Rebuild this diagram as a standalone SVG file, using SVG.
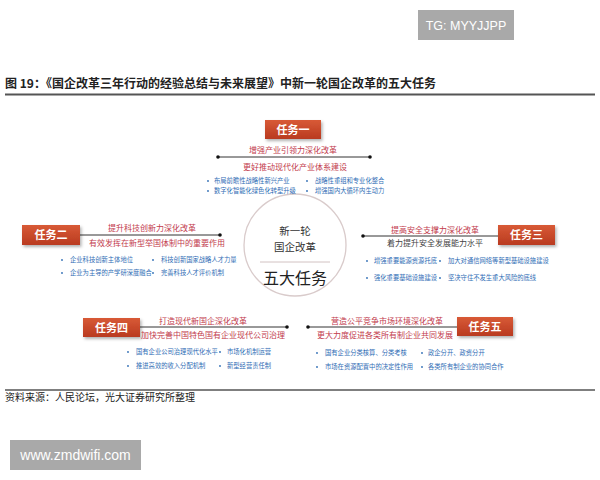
<svg xmlns="http://www.w3.org/2000/svg" width="600" height="480" viewBox="0 0 600 480">
<defs>
<linearGradient id="boxg" x1="0" y1="0" x2="0" y2="1">
<stop offset="0" stop-color="#d85a36"/>
<stop offset="1" stop-color="#b93a20"/>
</linearGradient>
<filter id="sh" x="-20%" y="-20%" width="150%" height="160%">
<feDropShadow dx="1.5" dy="2" stdDeviation="1.5" flood-color="#000" flood-opacity="0.3"/>
</filter>
</defs>
<style>
text{font-family:"Noto Sans CJK SC","Noto Sans",sans-serif}
.box{fill:url(#boxg);filter:url(#sh)}
.bt{fill:#fff;font-size:11px;font-weight:bold;text-anchor:middle}
.red{fill:#c23a4c;font-size:8px;text-anchor:middle}
.gry{fill:#444;font-size:8px;text-anchor:middle}
.bl{fill:#2f6db5;font-size:6.3px}
.dot{fill:#2f6db5}
.ln{stroke:#333;stroke-width:1}
.end{fill:#111}
.wm{fill:#a9a9a9}
.wmt{fill:#fff;font-family:"Liberation Sans",Arial,sans-serif}
</style>
<rect width="600" height="480" fill="#fff"/>

<g id="watermark-top">
<rect class="wm" x="418" y="10" width="96" height="30"/>
<text class="wmt" x="466" y="30" font-size="12.5" text-anchor="middle">TG: MYYJJPP</text>
</g>

<g id="title">
<text x="5" y="88" font-size="12" font-weight="bold" fill="#222">图 19：《国企改革三年行动的经验总结与未来展望》中新一轮国企改革的五大任务</text>
<line x1="5" y1="94.5" x2="595" y2="94.5" stroke="#555" stroke-width="2"/>
</g>

<g id="connectors">
<line class="ln" x1="218" y1="157" x2="370" y2="157"/>
<circle class="end" cx="218" cy="157" r="1.8"/>
<circle class="end" cx="370" cy="157" r="1.8"/>
<line class="ln" x1="80" y1="235" x2="220" y2="235"/>
<circle class="end" cx="220" cy="235" r="1.8"/>
<line class="ln" x1="363" y1="236" x2="498" y2="236"/>
<circle class="end" cx="363" cy="236" r="1.8"/>
<line class="ln" x1="140" y1="327" x2="287" y2="327"/>
<circle class="end" cx="287" cy="327" r="1.8"/>
<line class="ln" x1="308" y1="327" x2="457" y2="327"/>
<circle class="end" cx="308" cy="327" r="1.8"/>
</g>

<g id="center">
<circle cx="295" cy="245" r="51" fill="#fff" stroke="#d9cbcb" stroke-width="1.3"/>
<text x="295" y="235" font-size="10.5" text-anchor="middle" fill="#333">新一轮</text>
<text x="295" y="251" font-size="10.5" text-anchor="middle" fill="#333">国企改革</text>
<line x1="260" y1="262" x2="330" y2="262" stroke="#d2c2c2" stroke-width="1"/>
<text x="295" y="284" font-size="16" text-anchor="middle" fill="#222">五大任务</text>
</g>

<g id="task1">
<rect class="box" x="265" y="120" width="56" height="19"/>
<text class="bt" x="293" y="133.5">任务一</text>
<text class="red" x="293" y="153">增强产业引领力深化改革</text>
<text class="red" x="295" y="170">更好推动现代化产业体系建设</text>
<circle class="dot" cx="208" cy="181" r="0.9"/>
<text class="bl" x="214" y="183.2">布局前瞻性战略性新兴产业</text>
<circle class="dot" cx="307" cy="181" r="0.9"/>
<text class="bl" x="315" y="183.2">战略性重组和专业化整合</text>
<circle class="dot" cx="208" cy="191" r="0.9"/>
<text class="bl" x="214" y="193.2">数字化智能化绿色化转型升级</text>
<circle class="dot" cx="307" cy="191" r="0.9"/>
<text class="bl" x="315" y="193.2">增强国内大循环内生动力</text>
</g>

<g id="task2">
<rect class="box" x="22" y="225" width="58" height="20"/>
<text class="bt" x="51" y="239">任务二</text>
<text class="red" x="152" y="231">提升科技创新力深化改革</text>
<text class="red" x="157" y="246">有效发挥在新型举国体制中的重要作用</text>
<circle class="dot" cx="62" cy="260" r="0.9"/>
<text class="bl" x="70" y="262.2">企业科技创新主体地位</text>
<circle class="dot" cx="153" cy="260" r="0.9"/>
<text class="bl" x="161" y="262.2">科技创新国家战略人才力量</text>
<circle class="dot" cx="62" cy="273" r="0.9"/>
<text class="bl" x="70" y="275.2">企业为主导的产学研深度融合</text>
<circle class="dot" cx="153" cy="273" r="0.9"/>
<text class="bl" x="161" y="275.2">完善科技人才评价机制</text>
</g>

<g id="task3">
<rect class="box" x="498" y="225" width="57" height="20"/>
<text class="bt" x="526.5" y="239">任务三</text>
<text class="red" x="435" y="232.5">提高安全支撑力深化改革</text>
<text class="gry" x="435" y="246">着力提升安全发展能力水平</text>
<circle class="dot" cx="367" cy="261" r="0.9"/>
<text class="bl" x="374" y="263.2">增强重要能源资源托底</text>
<circle class="dot" cx="440" cy="261" r="0.9"/>
<text class="bl" x="448" y="263.2">加大对通信网络等新型基础设施建设</text>
<circle class="dot" cx="367" cy="278" r="0.9"/>
<text class="bl" x="374" y="280.2">强化重要基础设施建设</text>
<circle class="dot" cx="440" cy="278" r="0.9"/>
<text class="bl" x="448" y="280.2">坚决守住不发生重大风险的底线</text>
</g>

<g id="task4">
<rect class="box" x="83" y="318" width="57" height="19"/>
<text class="bt" x="111.5" y="331.5">任务四</text>
<text class="red" x="203" y="323.5">打造现代新国企深化改革</text>
<text class="red" x="213" y="338">加快完善中国特色国有企业现代公司治理</text>
<circle class="dot" cx="128" cy="352" r="0.9"/>
<text class="bl" x="136" y="354.2">国有企业公司治理现代化水平</text>
<circle class="dot" cx="220" cy="352" r="0.9"/>
<text class="bl" x="227" y="354.2">市场化机制运营</text>
<circle class="dot" cx="128" cy="366" r="0.9"/>
<text class="bl" x="136" y="368.2">推进高效的收入分配机制</text>
<circle class="dot" cx="220" cy="366" r="0.9"/>
<text class="bl" x="227" y="368.2">新型经营责任制</text>
</g>

<g id="task5">
<rect class="box" x="457" y="317" width="56" height="19"/>
<text class="bt" x="485" y="330.5">任务五</text>
<text class="red" x="387" y="323.5">营造公平竞争市场环境深化改革</text>
<text class="red" x="385" y="337.5">更大力度促进各类所有制企业共同发展</text>
<circle class="dot" cx="317" cy="353" r="0.9"/>
<text class="bl" x="325" y="355.2">国有企业分类核算、分类考核</text>
<circle class="dot" cx="422" cy="353" r="0.9"/>
<text class="bl" x="428" y="355.2">政企分开、政资分开</text>
<circle class="dot" cx="317" cy="367" r="0.9"/>
<text class="bl" x="325" y="369.2">市场在资源配置中的决定性作用</text>
<circle class="dot" cx="422" cy="367" r="0.9"/>
<text class="bl" x="428" y="369.2">各类所有制企业的协同合作</text>
</g>

<g id="footer">
<line x1="5" y1="390" x2="595" y2="390" stroke="#555" stroke-width="1.5"/>
<text x="5" y="401" font-size="10" fill="#222">资料来源：人民论坛，光大证券研究所整理</text>
</g>

<g id="watermark-bottom">
<rect class="wm" x="10" y="440" width="131" height="30"/>
<text class="wmt" x="75.5" y="460" font-size="14" text-anchor="middle">www.zmdwifi.com</text>
</g>
</svg>
